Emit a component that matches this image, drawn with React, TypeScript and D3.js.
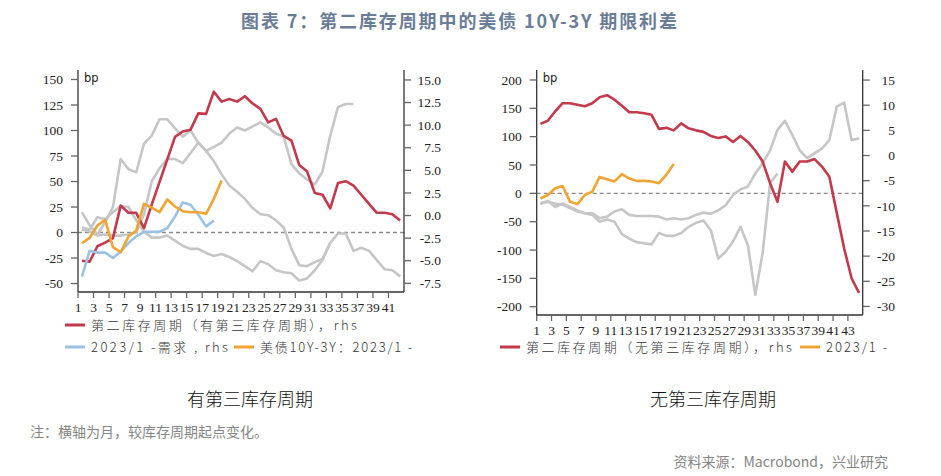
import * as d3 from "d3";

// ---- left panel: with a third inventory cycle ----
const leftRed = [-5.0, -5.1, -3.4, -3.0, -2.5, 1.1, 0.3, 0.3, -1.4, 1.2, 3.7, 6.2, 8.7, 9.3, 9.5, 11.3, 11.25, 13.7, 12.6, 12.9, 12.6, 13.2, 12.4, 11.8, 10.3, 10.7, 8.8, 8.3, 5.6, 4.9, 2.5, 2.3, 0.8, 3.6, 3.8, 3.3, 2.3, 1.3, 0.3, 0.3, 0.15, -0.55];
const leftBlue = [-6.75, -3.9, -4.1, -4.1, -4.7, -4.0, -3.05, -2.3, -1.8, -1.8, -1.8, -1.4, -0.1, 1.45, 1.2, 0.08, -1.2, -0.55];
const leftOrange = [-10.5, -5.2, 6.9, 12.4, -14.4, -19.3, -3.9, 2, 28.1, 24.5, 19.9, 32.4, 25.5, 20.9, 19.9, 19.9, 18.3, 33, 51];
const leftGrayA = [20, 7, -2, 10, 25, 72, 62, 59, 87, 95, 111, 111, 102, 94, 100, 88, 80, 70, 57, 46, 40, 33, 24, 18, 17, 12, 5, -16, -32, -33, -29, -26, -10, -1, -1, -18, -15, -18, -27, -36, -37, -43];
const leftGrayB = [5, 3, 15, 13, 20, 26, 25, 12, 1, -5, -5, -3, -8, -13, -16, -16, -20, -23, -21, -24, -28, -33, -38, -28, -31, -37, -39, -40, -47, -45, -37, -27, -10];
const leftGrayC = [3, 1, -3, -2, -3, -3, -2, 0, 18, 50, 63, 72, 72, 68, 78, 88, 80, 84, 88, 97, 103, 100, 104, 108, 103, 97, 94, 67, 58, 52, 47, 60, 95, 123, 126, 126];

const leftXTicks = [1, 3, 5, 7, 9, 11, 13, 15, 17, 19, 21, 23, 25, 27, 29, 31, 33, 35, 37, 39, 41];
const leftYTicks = [150, 125, 100, 75, 50, 25, 0, -25, -50];
const leftY2Ticks = [15, 12.5, 10, 7.5, 5, 2.5, 0, -2.5, -5, -7.5];

// ---- right panel: without a third inventory cycle ----
const rightRed = [6.3, 6.9, 8.8, 10.4, 10.4, 10.1, 9.8, 10.4, 11.6, 12.0, 11.1, 9.9, 8.6, 8.6, 8.4, 8.1, 5.3, 5.5, 5.0, 6.4, 5.4, 5.0, 4.7, 3.9, 3.5, 3.8, 2.7, 3.9, 2.7, 1.0, -1.2, -5.5, -9.2, -1.2, -3.2, -1.2, -1.2, -0.7, -2.2, -4.2, -11.4, -18.5, -24.4, -27.3];
const rightOrange = [-9, -3, 9, 13, -15, -19, -3, 3, 29, 25, 21, 34, 26, 22, 22, 21, 18, 33, 52];
const rightGrayA = [-17, -15, -18, -20, -26, -32, -35, -35, -44, -41, -32, -28, -38, -40, -40, -40, -41, -46, -44, -46, -44, -38, -34, -36, -30, -21, -3, 7, 12, 35, 53, 76, 112, 128, 103, 76, 62, 71, 79, 94, 153, 160, 94, 97];
const rightGrayB = [-19, -13, -24, -18, -24, -30, -35, -38, -50, -46, -50, -72, -80, -86, -88, -90, -70, -75, -75, -70, -59, -52, -48, -65, -115, -103, -85, -59, -91, -179, -105, 18, 35];

const rightXTicks = [1, 3, 5, 7, 9, 11, 13, 15, 17, 19, 21, 23, 25, 27, 29, 31, 33, 35, 37, 39, 41, 43];
const rightYTicks = [200, 150, 100, 50, 0, -50, -100, -150, -200];
const rightY2Ticks = [15, 10, 5, 0, -5, -10, -15, -20, -25, -30];

const RED = "#c23a4c";
const BLUE = "#9cc2e3";
const ORANGE = "#f0a432";
const GRAY = "#c6c6c6";

const tickFont = "Liberation Serif, serif";
const cjkFont = "Noto Sans CJK SC, sans-serif";

type Series = { values: number[]; color: string; axis: "l" | "r" };
type LegendItem = { x: number; y: number; color: string; label: string; len: number };

interface PanelProps {
  left: number;
  right: number;
  top: number;
  bottom: number;
  months: number;
  lDomain: [number, number];
  rDomain: [number, number];
  lTicks: number[];
  rTicks: number[];
  rFormat: (v: number) => string;
  rLabelX: number;
  xTicks: number[];
  series: Series[];
  legend: LegendItem[];
}

function Panel({ left, right, top, bottom, months, lDomain, rDomain, lTicks, rTicks, rFormat, rLabelX, xTicks, series, legend }: PanelProps) {
  const x = d3.scaleBand<number>().domain(d3.range(1, months + 1)).range([left, right]);
  const yL = d3.scaleLinear().domain(lDomain).range([bottom, top]);
  const yR = d3.scaleLinear().domain(rDomain).range([bottom, top]);
  const mid = (m: number) => x(m)! + x.bandwidth() / 2;

  return (
    <g>
      {/* zero line */}
      <line x1={left} x2={right} y1={yL(0)} y2={yL(0)} stroke="#8a8a8a" strokeWidth={1.3} strokeDasharray="4 3" />

      {series.map((s, i) => {
        const y = s.axis === "l" ? yL : yR;
        const line = d3.line<number>().x((_, j) => mid(j + 1)).y((d) => y(d));
        return <path key={i} d={line(s.values) ?? ""} fill="none" stroke={s.color} strokeWidth={2.6} strokeLinejoin="round" />;
      })}

      {/* left axis */}
      <line x1={left} x2={left} y1={top} y2={bottom} stroke="#333" strokeWidth={1.3} />
      {lTicks.map((t) => (
        <g key={t}>
          <line x1={left - 7} x2={left} y1={yL(t)} y2={yL(t)} stroke="#666" strokeWidth={1.3} />
          <text x={left - 15} y={yL(t)} dy="0.35em" textAnchor="end" style={{ fontFamily: tickFont }} fontSize={13.5} fill="#222">{t}</text>
        </g>
      ))}
      <text x={left + 6} y={top + 12} style={{ fontFamily: "DejaVu Sans, sans-serif" }} fontSize={11.5} fill="#222">bp</text>

      {/* right axis */}
      <line x1={right} x2={right} y1={top} y2={bottom} stroke="#333" strokeWidth={1.3} />
      {rTicks.map((t) => (
        <g key={t}>
          <line x1={right} x2={right + 7} y1={yR(t)} y2={yR(t)} stroke="#666" strokeWidth={1.3} />
          <text x={rLabelX} y={yR(t)} dy="0.35em" textAnchor="end" style={{ fontFamily: tickFont }} fontSize={13.5} fill="#222">{rFormat(t)}</text>
        </g>
      ))}

      {/* bottom axis */}
      <line x1={left} x2={right} y1={bottom} y2={bottom} stroke="#333" strokeWidth={1.3} />
      {xTicks.map((t) => (
        <g key={t}>
          <line x1={x(t)!} x2={x(t)!} y1={bottom} y2={bottom + 6} stroke="#666" strokeWidth={1.3} />
          <text x={x(t)!} y={bottom + 20} textAnchor="middle" style={{ fontFamily: tickFont }} fontSize={13.5} fill="#222">{t}</text>
        </g>
      ))}

      {legend.map((l, i) => (
        <g key={i}>
          <line x1={l.x} x2={l.x + 20} y1={l.y} y2={l.y} stroke={l.color} strokeWidth={3} />
          <text x={l.x + 26} y={l.y} dy="0.36em" style={{ fontFamily: cjkFont }} fontWeight={300} fontSize={13} fill="#333" textLength={l.len} lengthAdjust="spacing">{l.label}</text>
        </g>
      ))}
    </g>
  );
}

export default function App() {
  return (
    <div style={{ position: "fixed", left: 0, top: 0, width: 941, height: 476, background: "#fff" }}>
      <svg width={941} height={476}>
        <text x={459} y={28} textAnchor="middle" style={{ fontFamily: cjkFont }} fontWeight="bold" fontSize={18} fill="#6a7d97" textLength={436} lengthAdjust="spacing">
          图表 7：第二库存周期中的美债 10Y-3Y 期限利差
        </text>

        <Panel
          left={78}
          right={404}
          top={70}
          bottom={292}
          months={42}
          lDomain={[-58.3, 159.3]}
          rDomain={[-8.46, 16.1]}
          lTicks={leftYTicks}
          rTicks={leftY2Ticks}
          rFormat={(v) => v.toFixed(1)}
          rLabelX={441}
          xTicks={leftXTicks}
          series={[
            { values: leftGrayA, color: GRAY, axis: "l" },
            { values: leftGrayB, color: GRAY, axis: "l" },
            { values: leftGrayC, color: GRAY, axis: "l" },
            { values: leftRed, color: RED, axis: "r" },
            { values: leftBlue, color: BLUE, axis: "r" },
            { values: leftOrange, color: ORANGE, axis: "l" },
          ]}
          legend={[
            { x: 65, y: 325, color: RED, label: "第二库存周期（有第三库存周期），rhs", len: 266 },
            { x: 65, y: 347, color: BLUE, label: "2023/1 -需求 , rhs", len: 137 },
            { x: 234, y: 347, color: ORANGE, label: "美债10Y-3Y：2023/1 -", len: 152 },
          ]}
        />

        <Panel
          left={536.7}
          right={862.7}
          top={70}
          bottom={315}
          months={44}
          lDomain={[-214.6, 217.6]}
          rDomain={[-31.7, 17]}
          lTicks={rightYTicks}
          rTicks={rightY2Ticks}
          rFormat={(v) => String(v)}
          rLabelX={895}
          xTicks={rightXTicks}
          series={[
            { values: rightGrayA, color: GRAY, axis: "l" },
            { values: rightGrayB, color: GRAY, axis: "l" },
            { values: rightRed, color: RED, axis: "r" },
            { values: rightOrange, color: ORANGE, axis: "l" },
          ]}
          legend={[
            { x: 500, y: 347, color: RED, label: "第二库存周期（无第三库存周期），rhs", len: 266 },
            { x: 800, y: 347, color: ORANGE, label: "2023/1 -", len: 61 },
          ]}
        />

        <text x={250} y={406} textAnchor="middle" style={{ fontFamily: cjkFont }} fontWeight={300} fontSize={18} fill="#111">有第三库存周期</text>
        <text x={713} y={406} textAnchor="middle" style={{ fontFamily: cjkFont }} fontWeight={300} fontSize={18} fill="#111">无第三库存周期</text>

        <text x={30} y={437} style={{ fontFamily: cjkFont }} fontSize={14} fill="#858585">注：横轴为月，较库存周期起点变化。</text>
        <text x={888} y={467} textAnchor="end" style={{ fontFamily: cjkFont }} fontSize={14} fill="#858585">资料来源：Macrobond，兴业研究</text>
      </svg>
    </div>
  );
}
